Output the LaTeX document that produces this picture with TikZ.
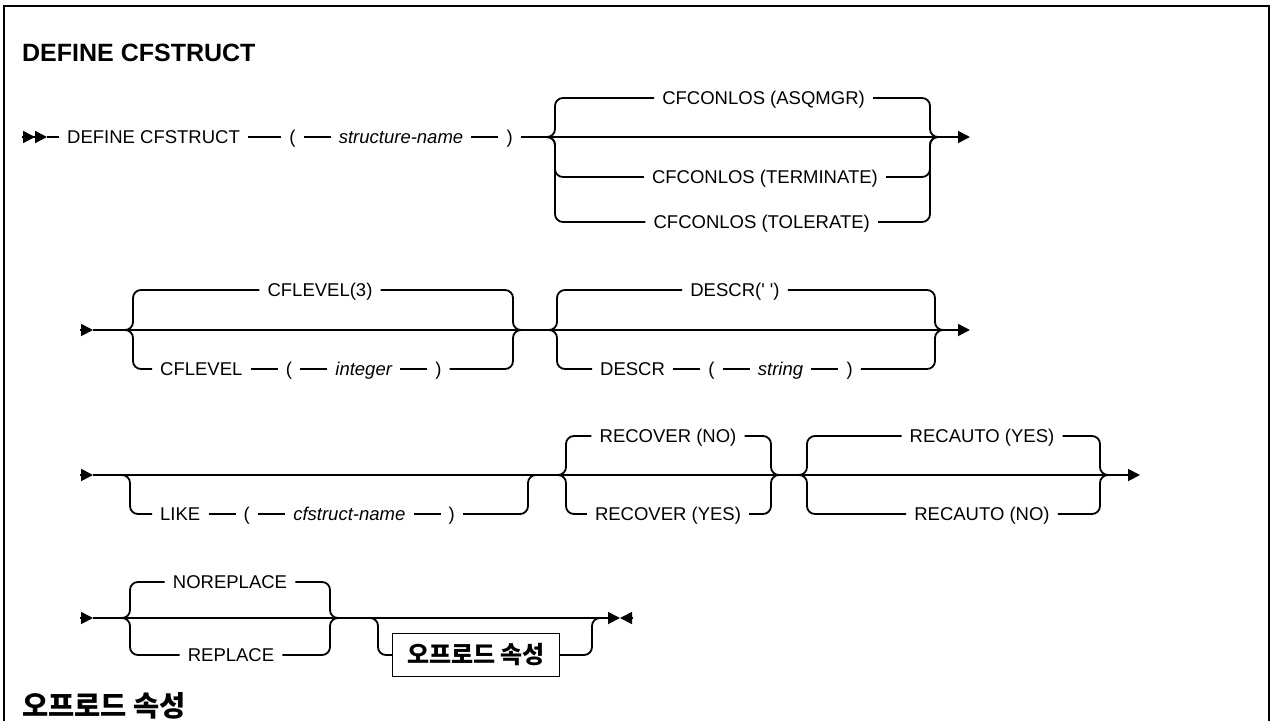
\documentclass[tikz,border=0pt]{standalone}
\usepackage{fontspec}
\setmainfont{Liberation Sans}
\newfontfamily\krfont{Noto Sans CJK KR}
\usetikzlibrary{positioning,arrows.meta}
\newcommand{\rrsize}{\fontsize{18.5}{22}\selectfont}
\newcommand{\hdsize}{\fontsize{25}{28}\selectfont}
\tikzset{
  rail/.style={line width=1.8pt},
  kw/.style={font=\rrsize, inner xsep=8pt, inner ysep=2pt, text height=13.2pt, text depth=0pt},
  var/.style={kw, font=\rrsize\itshape},
  head/.style={font=\hdsize\bfseries, anchor=west, inner sep=0pt},
  >={Triangle[length=12pt,width=12pt]}
}
\begin{document}
\begin{tikzpicture}[x=1pt,y=-1pt]
  \useasboundingbox (0,0) rectangle (1272,721);
  \draw[line width=2.5pt] (4,721) -- (4,6) -- (1269,6) -- (1269,721);
  \node[head] (title) at (22,53) {DEFINE CFSTRUCT};
  \node[head, font=\fontsize{28.5}{30}\selectfont\krfont\bfseries] (sub) at (22,706) {오프로드 속성};
  % row 1
  \coordinate (r1s) at (22,137);
  \coordinate (r1t) at (47,137);
  \coordinate (r1e) at (970,137);
  \node[kw, anchor=west] (dfn) at (59,137) {DEFINE CFSTRUCT};
  \node[kw, right=33pt of dfn] (lp1) {(};
  \node[var, right=27pt of lp1] (sname) {structure-name};
  \node[kw, right=27pt of sname] (rp1) {)};
  \draw[rail,->>] (r1s) -- (r1t);
  \draw[rail] (r1t) -- (dfn) -- (lp1) -- (sname) -- (rp1);
  \draw[rail,->] (rp1) -- (r1e);
  \coordinate (b1a) at (547,137);
  \coordinate (b1b) at (555,137);
  \coordinate (b1c) at (930,137);
  \coordinate (b1d) at (938,137);
  \node[kw, anchor=east] (asq) at (873,98) {CFCONLOS (ASQMGR)};
  \node[kw, anchor=east] (term) at (886,177) {CFCONLOS (TERMINATE)};
  \node[kw, anchor=east] (tol) at (878,222) {CFCONLOS (TOLERATE)};
  \foreach \n in {asq,term,tol}{
    \draw[rail, rounded corners=8pt] (b1a) -| (b1b |- \n) -- (\n.west);
    \draw[rail, rounded corners=8pt] (\n.east) -| (b1c) -- (b1d);
  }
  % row 2
  \coordinate (r2s) at (80,330);
  \coordinate (r2t) at (93,330);
  \coordinate (r2e) at (970,330);
  \draw[rail,->] (r2s) -- (r2t);
  \draw[rail,->] (r2t) -- (r2e);
  \coordinate (b2a) at (125,330);
  \coordinate (b2b) at (133,330);
  \coordinate (b2c) at (513,330);
  \coordinate (b2d) at (521,330);
  \node[kw] (lv3) at (320,290) {CFLEVEL(3)};
  \node[kw, anchor=west] (cfl) at (152,369) {CFLEVEL};
  \node[kw, right=27pt of cfl] (lp2) {(};
  \node[var, right=27pt of lp2] (intg) {integer};
  \node[kw, right=27pt of intg] (rp2) {)};
  \draw[rail] (cfl) -- (lp2) -- (intg) -- (rp2);
  \draw[rail, rounded corners=8pt] (b2a) -| (b2b |- lv3) -- (lv3.west);
  \draw[rail, rounded corners=8pt] (lv3.east) -| (b2c) -- (b2d);
  \draw[rail, rounded corners=8pt] (b2a) -| (b2b |- cfl) -- (cfl.west);
  \draw[rail, rounded corners=8pt] (rp2.east) -| (b2c) -- (b2d);
  \coordinate (b3a) at (549,330);
  \coordinate (b3b) at (557,330);
  \coordinate (b3c) at (935,330);
  \coordinate (b3d) at (943,330);
  \node[kw] (dsc) at (735,290) {DESCR(\textquotesingle\ \textquotesingle)};
  \node[kw, anchor=west] (dsw) at (592,369) {DESCR};
  \node[kw, right=27pt of dsw] (lp3) {(};
  \node[var, right=27pt of lp3] (strg) {string};
  \node[kw, right=27pt of strg] (rp3) {)};
  \draw[rail] (dsw) -- (lp3) -- (strg) -- (rp3);
  \draw[rail, rounded corners=8pt] (b3a) -| (b3b |- dsc) -- (dsc.west);
  \draw[rail, rounded corners=8pt] (dsc.east) -| (b3c) -- (b3d);
  \draw[rail, rounded corners=8pt] (b3a) -| (b3b |- dsw) -- (dsw.west);
  \draw[rail, rounded corners=8pt] (rp3.east) -| (b3c) -- (b3d);
  % row 3
  \coordinate (r3s) at (80,475);
  \coordinate (r3t) at (93,475);
  \coordinate (r3e) at (1140,475);
  \draw[rail,->] (r3s) -- (r3t);
  \draw[rail,->] (r3t) -- (r3e);
  \coordinate (b4a) at (122,475);
  \coordinate (b4b) at (130,475);
  \coordinate (b4c) at (528,475);
  \coordinate (b4d) at (536,475);
  \node[kw, anchor=west] (like) at (152,514) {LIKE};
  \node[kw, right=27pt of like] (lp4) {(};
  \node[var, right=27pt of lp4] (cfs) {cfstruct-name};
  \node[kw, right=27pt of cfs] (rp4) {)};
  \draw[rail] (like) -- (lp4) -- (cfs) -- (rp4);
  \draw[rail, rounded corners=8pt] (b4a) -| (b4b |- like) -- (like.west);
  \draw[rail, rounded corners=8pt] (rp4.east) -| (b4c) -- (b4d);
  \coordinate (b5a) at (558,475);
  \coordinate (b5b) at (566,475);
  \coordinate (b5c) at (771,475);
  \coordinate (b5d) at (779,475);
  \node[kw] (recno) at (668,436) {RECOVER (NO)};
  \node[kw] (recyes) at (668,514) {RECOVER (YES)};
  \foreach \n in {recno,recyes}{
    \draw[rail, rounded corners=8pt] (b5a) -| (b5b |- \n) -- (\n.west);
    \draw[rail, rounded corners=8pt] (\n.east) -| (b5c) -- (b5d);
  }
  \coordinate (b6a) at (799,475);
  \coordinate (b6b) at (807,475);
  \coordinate (b6c) at (1100,475);
  \coordinate (b6d) at (1108,475);
  \node[kw] (autoyes) at (982,436) {RECAUTO (YES)};
  \node[kw] (autono) at (982,514) {RECAUTO (NO)};
  \foreach \n in {autoyes,autono}{
    \draw[rail, rounded corners=8pt] (b6a) -| (b6b |- \n) -- (\n.west);
    \draw[rail, rounded corners=8pt] (\n.east) -| (b6c) -- (b6d);
  }
  % row 4
  \coordinate (r4s) at (80,618);
  \coordinate (r4t) at (93,618);
  \coordinate (r4e) at (620,618);
  \coordinate (r4f) at (632,618);
  \draw[rail,->] (r4s) -- (r4t);
  \draw[rail,->] (r4t) -- (r4e);
  \draw[rail,<-] (r4e) -- (r4f);
  \coordinate (b7a) at (122,618);
  \coordinate (b7b) at (130,618);
  \coordinate (b7c) at (330,618);
  \coordinate (b7d) at (338,618);
  \node[kw] (norep) at (230,582) {NOREPLACE};
  \node[kw] (rep) at (231,655) {REPLACE};
  \foreach \n in {norep,rep}{
    \draw[rail, rounded corners=8pt] (b7a) -| (b7b |- \n) -- (\n.west);
    \draw[rail, rounded corners=8pt] (\n.east) -| (b7c) -- (b7d);
  }
  \coordinate (b8a) at (370,618);
  \coordinate (b8b) at (378,618);
  \coordinate (b8c) at (592,618);
  \coordinate (b8d) at (600,618);
  \node[draw, line width=1.2pt, font=\fontsize{24}{26}\selectfont\krfont\bfseries, minimum width=167pt,
    minimum height=43pt, inner sep=0pt] (ofl) at (476,655) {오프로드 속성};
  \draw[rail, rounded corners=8pt] (b8a) -| (b8b |- ofl) -- (ofl.west);
  \draw[rail, rounded corners=8pt] (ofl.east) -| (b8c) -- (b8d);
\end{tikzpicture}
\end{document}
